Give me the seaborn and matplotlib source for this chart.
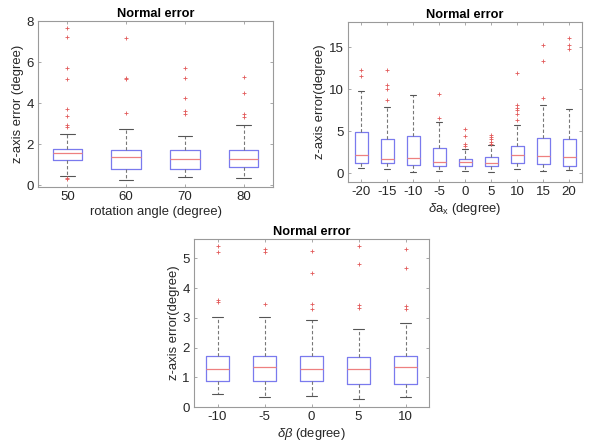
import matplotlib
matplotlib.use("Agg")
import matplotlib.pyplot as plt
import seaborn as sns

# ---- rotation angle panel ----
rot_labels = ["50", "60", "70", "80"]
rot_whislo = [0.44, 0.28, 0.41, 0.34]
rot_q1 = [1.25, 0.81, 0.81, 0.88]
rot_med = [1.59, 1.37, 1.27, 1.27]
rot_q3 = [1.79, 1.72, 1.72, 1.72]
rot_whishi = [2.52, 2.76, 2.41, 2.94]
rot_fliers = [
    [7.64, 7.24, 5.69, 5.20, 3.74, 3.40, 2.93, 2.85, 0.36, 0.33],
    [7.19, 5.24, 5.19, 3.50],
    [5.72, 5.22, 4.23, 3.61, 3.48],
    [5.27, 4.49, 3.48, 3.33],
]

# ---- delta a_x panel ----
ax_labels = ["-20", "-15", "-10", "-5", "0", "5", "10", "15", "20"]
ax_whislo = [0.63, 0.44, 0.16, 0.28, 0.24, 0.12, 0.44, 0.28, 0.36]
ax_q1 = [1.23, 1.23, 0.91, 0.79, 0.83, 0.83, 1.19, 1.07, 0.80]
ax_med = [2.18, 1.71, 1.79, 1.35, 1.27, 1.19, 2.10, 2.07, 1.87]
ax_q3 = [4.88, 4.09, 4.44, 2.98, 1.71, 1.87, 3.21, 4.21, 4.09]
ax_whishi = [9.72, 7.86, 9.33, 6.10, 2.90, 3.30, 5.76, 8.10, 7.66]
ax_fliers = [
    [12.3, 11.6],
    [12.3, 10.5, 10.0, 8.65],
    [],
    [9.44, 6.59],
    [5.28, 4.45, 3.41, 3.26],
    [4.57, 4.29, 4.01, 3.69, 3.50],
    [11.95, 8.06, 7.78, 7.55, 7.07, 6.36],
    [15.28, 13.38, 8.98],
    [16.07, 15.28, 14.80],
]

# ---- delta beta panel ----
beta_labels = ["-10", "-5", "0", "5", "10"]
beta_whislo = [0.45, 0.34, 0.36, 0.27, 0.33]
beta_q1 = [0.87, 0.87, 0.89, 0.79, 0.79]
beta_med = [1.29, 1.34, 1.27, 1.29, 1.33]
beta_q3 = [1.73, 1.73, 1.73, 1.69, 1.71]
beta_whishi = [3.01, 3.03, 2.94, 2.64, 2.83]
beta_fliers = [
    [5.42, 5.22, 3.60, 3.52],
    [5.31, 5.22, 3.47],
    [5.26, 4.49, 3.45, 3.29],
    [5.42, 4.81, 3.42, 3.34],
    [5.30, 4.69, 3.38, 3.28],
]

sns.set_theme(style="white")
plt.rcParams["font.family"] = ["Liberation Sans", "DejaVu Sans"]
plt.rcParams["mathtext.fontset"] = "custom"
plt.rcParams["mathtext.rm"] = "Liberation Sans"
plt.rcParams["mathtext.it"] = "Liberation Sans:italic"

SPINE = "#9a9a9a"
TEXT = "#262626"
BOX = "#7a7aee"
MED = "#ee8080"
WHISK = "#777777"
FLIER = "#e25a5a"
TICK_FS = 9.5
LABEL_FS = 9.4
TITLE_FS = 9.2


def make_stats(lo, q1, med, q3, hi, fl):
    return [
        dict(whislo=a, q1=b, med=c, q3=d, whishi=e, fliers=f)
        for a, b, c, d, e, f in zip(lo, q1, med, q3, hi, fl)
    ]


def panel(ax, stats, labels, ylim, yticks, xlabel, ylabel):
    n = len(stats)
    ax.bxp(
        stats,
        positions=range(1, n + 1),
        widths=0.5,
        capwidths=0.25,
        showfliers=True,
        boxprops=dict(color=BOX, linewidth=0.9),
        medianprops=dict(color=MED, linewidth=0.9),
        whiskerprops=dict(color=WHISK, linewidth=0.8, linestyle=(0, (3, 2))),
        capprops=dict(color="#555555", linewidth=0.8),
        flierprops=dict(marker="+", markeredgecolor=FLIER, markersize=3.0,
                        markeredgewidth=0.6, linestyle="none"),
    )
    ax.set_xlim(0.5, n + 0.5)
    ax.set_ylim(*ylim)
    ax.set_xticks(range(1, n + 1))
    ax.set_xticklabels(labels)
    ax.set_yticks(yticks)
    ax.set_title("Normal error", fontsize=TITLE_FS, fontweight="bold",
                 color="black", pad=3)
    ax.set_xlabel(xlabel, fontsize=LABEL_FS, color=TEXT, labelpad=2)
    ax.set_ylabel(ylabel, fontsize=LABEL_FS, color=TEXT, labelpad=2)
    ax.tick_params(direction="in", length=2.5, width=0.6, color=SPINE,
                   labelsize=TICK_FS, labelcolor=TEXT, top=True, right=True,
                   bottom=True, left=True, pad=3)
    for s in ax.spines.values():
        s.set_visible(True)
        s.set_color(SPINE)
        s.set_linewidth(0.8)
    ax.set_facecolor("white")


fig = plt.figure(figsize=(5.9, 4.47), dpi=100)
fig.patch.set_facecolor("white")

ax1 = fig.add_axes([38 / 590, 1 - 187 / 447, 235 / 590, 166 / 447])
panel(ax1,
      make_stats(rot_whislo, rot_q1, rot_med, rot_q3, rot_whishi, rot_fliers),
      rot_labels, (-0.08, 8.0), [0, 2, 4, 6, 8],
      "rotation angle (degree)", "z-axis error (degree)")

ax2 = fig.add_axes([348 / 590, 1 - 182 / 447, 234 / 590, 160 / 447])
panel(ax2,
      make_stats(ax_whislo, ax_q1, ax_med, ax_q3, ax_whishi, ax_fliers),
      ax_labels, (-1.07, 18.0), [0, 5, 10, 15],
      r"$\delta\mathrm{a}_\mathrm{x}$ (degree)", "z-axis error(degree)")

ax3 = fig.add_axes([194 / 590, 1 - 407 / 447, 235 / 590, 168 / 447])
panel(ax3,
      make_stats(beta_whislo, beta_q1, beta_med, beta_q3, beta_whishi, beta_fliers),
      beta_labels, (0.0, 5.65), [0, 1, 2, 3, 4, 5],
      r"$\delta\beta$ (degree)", "z-axis error(degree)")

fig.savefig("out.png", dpi=100, facecolor="white")
